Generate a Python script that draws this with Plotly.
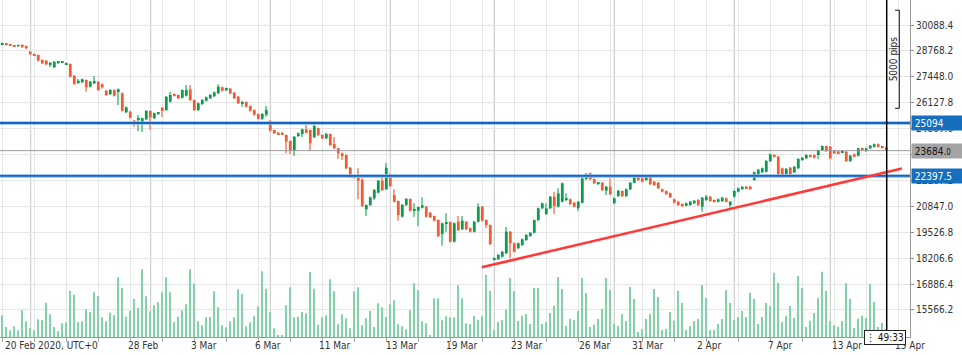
import plotly.graph_objects as go

# ---------------- data (4h candles, index 0 = first candle on 20 Feb 2020) ----------------
opens = [
    29105, 29145, 29105, 29054, 29018, 29054, 29018, 28728, 28610, 28559,
    28304, 28269, 28050, 27932, 28167, 28172, 28085, 28100, 27504, 27168,
    27168, 27285, 26944, 27117, 27198, 27066, 26740, 26571, 26775, 26724,
    26607, 25639, 25669, 25211, 25246, 25042, 25282, 25705, 25333, 25552,
    25873, 25756, 26179, 26571, 26520, 26383, 26485, 26811, 26266, 25756,
    26062, 26230, 26352, 26454, 26607, 26913, 26760, 26842, 26638, 26434,
    26062, 26164, 25960, 25756, 25552, 25313, 25516, 25195, 24737, 24599,
    24584, 24482, 24176, 23681, 24431, 24533, 24772, 24737, 24364, 24823,
    24482, 24313, 24533, 24023, 23804, 23549, 23462, 22815, 22305, 22305,
    22188, 20695, 20914, 21255, 21541, 22152, 21714, 22479, 21423, 21118,
    20317, 20914, 21220, 20633, 20623, 20776, 20827, 20521, 20353, 20149,
    19436, 19996, 20047, 19043, 20063, 19675, 20063, 19726, 19553, 20063,
    20827, 20149, 19894, 18146, 18146, 18279, 18452, 19553, 18962, 18707,
    18875, 19130, 19334, 19502, 20149, 20746, 20455, 20746, 21337, 20827,
    21082, 21169, 21204, 21031, 20746, 21031, 22239, 22530, 22239, 21984,
    22050, 21643, 21847, 21000, 21373, 21627, 21373, 21714, 22050, 22326,
    22275, 22188, 22356, 22101, 22050, 21714, 21627, 21510, 21204, 21082,
    20965, 20878, 20914, 21000, 21169, 20827, 21169, 21337, 21169, 21082,
    21118, 21255, 20914, 21337, 21592, 21729, 21847, 21847, 22188, 22479,
    22581, 22611, 23156, 23462, 23376, 22784, 22479, 22815, 22581, 22784,
    23207, 23294, 23462, 23462, 23462, 23717, 23921, 23885, 23666, 23641,
    23600, 23631, 23156, 23498, 23427, 23804, 23666, 23804, 23885, 24008,
    23885, 23834,
]
highs = [
    29196, 29171, 29120, 29069, 29094, 29120, 29044, 28763, 28636, 28585,
    28330, 28304, 28203, 28253, 28253, 28238, 28177, 28126, 27540, 27336,
    27362, 27311, 27234, 27489, 27234, 27107, 26775, 26826, 26801, 26852,
    26648, 25934, 25705, 25246, 25501, 25374, 25756, 25730, 25629, 25654,
    25909, 26470, 26689, 26597, 26546, 26801, 27030, 27030, 26291, 26138,
    26317, 26444, 26571, 26699, 27066, 26954, 26903, 26877, 26673, 26470,
    26230, 26189, 25985, 25781, 25578, 25603, 25960, 25246, 24762, 24635,
    24650, 24507, 24201, 24431, 24609, 24813, 24991, 24762, 25042, 24864,
    24507, 24599, 24558, 24380, 23845, 23590, 23488, 22851, 22443, 22784,
    22290, 20939, 21347, 21729, 22188, 22443, 23070, 22519, 21714, 21143,
    20965, 21271, 21245, 21000, 20837, 21306, 20863, 20557, 20379, 20175,
    20022, 20491, 20073, 20022, 20353, 20353, 20098, 19767, 20098, 21000,
    20863, 20175, 19920, 18238, 18416, 18569, 19808, 19589, 19002, 19002,
    19206, 19436, 19538, 20175, 20786, 21041, 21000, 21373, 21592, 21765,
    22061, 21510, 21245, 21067, 21118, 22315, 22545, 22570, 22265, 22086,
    22086, 21882, 22275, 21296, 21678, 21653, 21755, 22086, 22366, 22366,
    22315, 22392, 22392, 22137, 22086, 21755, 21653, 21551, 21245, 21118,
    20990, 21041, 21118, 21169, 21220, 21322, 21423, 21373, 21194, 21245,
    21337, 21296, 21118, 21678, 21806, 21882, 21882, 21882, 22621, 22749,
    22825, 23207, 23539, 23513, 23411, 22825, 22800, 22851, 22902, 23309,
    23360, 23513, 23488, 23488, 23743, 23947, 23947, 23921, 23692, 23666,
    23717, 23666, 23462, 23539, 23845, 23845, 23845, 23972, 24048, 24048,
    23921, 23870,
]
lows = [
    29069, 29044, 29018, 28967, 28993, 28916, 28865, 28559, 28508, 28228,
    28100, 28050, 27948, 27897, 28100, 28152, 28050, 27412, 27030, 27081,
    27132, 26689, 26903, 27081, 26724, 26852, 26470, 26520, 26444, 26011,
    25679, 25603, 25323, 24905, 24686, 24650, 25246, 24737, 25297, 25501,
    25399, 25705, 26138, 26444, 26317, 26342, 26444, 26215, 25705, 25705,
    26011, 26189, 26317, 26419, 26571, 26699, 26724, 26571, 26317, 26062,
    25924, 25883, 25679, 25476, 25272, 25246, 25414, 24660, 24533, 24482,
    24482, 23549, 23513, 23411, 24380, 24364, 24558, 23666, 24329, 24431,
    24278, 24278, 23921, 23768, 23258, 23207, 22749, 22290, 22265, 21204,
    20812, 20353, 20863, 21169, 21500, 21627, 21678, 21831, 21041, 20114,
    20277, 20863, 20582, 20317, 19843, 20735, 20277, 20251, 20073, 19283,
    18839, 19553, 19002, 19002, 19589, 19640, 19640, 19512, 19512, 20022,
    20073, 19741, 18875, 18085, 18110, 18238, 18416, 18197, 18493, 18671,
    18824, 19079, 19283, 19461, 20098, 20710, 20404, 20710, 20455, 20786,
    21041, 21118, 20914, 20786, 20623, 20990, 22188, 22188, 21984, 21933,
    21627, 21423, 21423, 20965, 21322, 21322, 21322, 21678, 22010, 22137,
    22061, 22137, 21933, 21882, 21729, 21551, 21423, 21271, 20990, 20863,
    20812, 20837, 20863, 20965, 20863, 20572, 21118, 21067, 21041, 21041,
    21067, 21041, 20776, 21296, 21551, 21678, 21729, 21678, 22137, 22443,
    22545, 22570, 23106, 23335, 22443, 22392, 22443, 22443, 22545, 22749,
    23156, 23258, 23335, 23284, 23258, 23666, 23615, 23258, 23513, 23513,
    23564, 23106, 23106, 23335, 23386, 23666, 23615, 23768, 23845, 23845,
    23794, 23666,
]
closes = [
    29156, 29084, 29033, 29003, 29069, 28967, 28901, 28595, 28524, 28269,
    28136, 28085, 28167, 28218, 28203, 28213, 28136, 27453, 27081, 27249,
    27321, 26913, 27198, 27234, 26775, 26913, 26520, 26775, 26485, 26811,
    25720, 25894, 25363, 25078, 25333, 25333, 25705, 25384, 25588, 25618,
    25705, 26434, 26520, 26485, 26352, 26775, 26775, 26266, 25756, 26097,
    26266, 26403, 26520, 26658, 26944, 26740, 26877, 26607, 26352, 26097,
    26164, 25924, 25720, 25516, 25313, 25552, 25756, 24701, 24568, 24517,
    24517, 24140, 23681, 24395, 24568, 24772, 24599, 24059, 24940, 24482,
    24313, 24533, 23972, 23804, 23549, 23411, 22784, 22326, 22392, 22152,
    20863, 20914, 21306, 21678, 22152, 21678, 22815, 21882, 21082, 20404,
    20914, 21220, 20623, 20684, 20812, 20899, 20317, 20287, 20114, 19334,
    19981, 20022, 19043, 19981, 19640, 20114, 19675, 19553, 20063, 20827,
    20114, 19894, 18926, 18197, 18365, 18534, 19553, 18962, 18534, 18962,
    19166, 19385, 19502, 20149, 20746, 21000, 20746, 21337, 20863, 21510,
    22020, 21255, 20965, 20827, 21082, 22275, 22494, 22224, 22020, 22050,
    21678, 21847, 21459, 21255, 21643, 21373, 21714, 22050, 22326, 22188,
    22101, 22356, 21984, 21933, 21765, 21592, 21474, 21306, 21031, 20914,
    20863, 21000, 21082, 21133, 20914, 21286, 21337, 21118, 21082, 21204,
    21286, 21082, 21082, 21627, 21765, 21847, 21765, 21729, 22581, 22713,
    22784, 23156, 23498, 23376, 22479, 22443, 22749, 22479, 22866, 23258,
    23325, 23462, 23376, 23325, 23717, 23921, 23666, 23294, 23549, 23549,
    23666, 23156, 23427, 23376, 23804, 23717, 23804, 23936, 24008, 23885,
    23834, 23684,
]
volumes = [
    21.7, 10, 6.7, 10.7, 6.7, 26.7, 15.7, 9, 6.7, 17.7,
    16.7, 34.3, 22.7, 10, 5.7, 13.7, 14.7, 46, 42.3, 15,
    15.7, 27.7, 24.7, 44.7, 41, 19.7, 15.7, 24.3, 21.7, 59.7,
    49, 20.3, 26.3, 38, 29, 67.7, 40.7, 25.7, 31.7, 34.7,
    44.7, 59.7, 44.7, 15, 20.3, 26.7, 32.7, 67.7, 53.3, 15.7,
    11.7, 19.7, 20, 45.7, 29.7, 11.7, 9.7, 15.7, 19.7, 47.7,
    43, 10.7, 14.7, 20.7, 30.7, 65.7, 48.3, 25, 8.7, 1.7,
    1.7, 31.7, 49.7, 19.7, 20.3, 25, 23.7, 65, 48.3, 12.3,
    19.7, 21.7, 57.7, 45.7, 12.7, 22.7, 18.7, 8.7, 45.7, 49.7,
    11.7, 18.7, 26, 10, 33.7, 29.7, 20, 32.7, 36.7, 12.7,
    10.7, 7.7, 26.7, 53.7, 46.7, 15.7, 13.7, 1.7, 38.7, 38.7,
    16.7, 20.7, 19.7, 19.7, 51.7, 38.7, 13.7, 13, 21, 17.3,
    21, 62, 46.3, 7, 15, 17, 27.3, 59, 46, 16,
    21, 23, 13, 49, 49, 13, 15, 24, 31, 60,
    48, 11, 18.3, 17, 26, 59, 44, 10, 12.3, 18,
    28.3, 59, 47, 13, 11, 23, 16, 50, 38, 5,
    8, 18, 23, 48, 40, 7, 8, 25, 16.3, 46.3,
    34, 7, 11, 16, 18.3, 52, 39, 7, 7, 13,
    18, 47, 34, 17, 20, 26, 20, 44.3, 38, 13,
    20, 34, 31, 64.3, 54.3, 15, 21.3, 31, 19, 61,
    49, 10, 16.3, 24, 39, 65.3, 46.3, 16, 11.7, 10,
    16, 54, 38, 9, 18.3, 21.3, 19, 53, 35, 10,
    14, 8,
]

price_ticks = [30088.4, 28768.2, 27448.0, 26127.8, 24807.6, 23487.4,
               22167.2, 20847.0, 19526.8, 18206.6, 16886.4, 15566.2]
first_date_label = "20 Feb 2020, UTC+0"
date_labels = ["28 Feb", "3 Mar", "6 Mar", "11 Mar", "13 Mar", "19 Mar", "23 Mar",
               "26 Mar", "31 Mar", "2 Apr", "7 Apr", "13 Apr", "15 Apr"]
date_pos = [35.2, 50.3, 66.5, 83.2, 99.9, 115.0, 131.2, 148.1, 161.5, 176.6,
            194.5, 211.2, 226.8]
week_starts = [7.1, 37.1, 67, 97, 123, 153, 183, 207]
levels = [25094, 22397.5]
level_text = ["25094", "22397.5"]
last_price = 23684
trend_x = [119.85, 224.9]
trend_y = [17738, 22774]
pips_range = [25842, 30842]
timer_text = "49:33"

n = len(opens)
assert all(len(a) == n for a in (highs, lows, closes, volumes)), [len(a) for a in (opens, highs, lows, closes, volumes)]
xs = list(range(n))

GREEN, RED = "#0e9a50", "#f25c33"
GREEN_W, RED_W = "#79cd9b", "#f5a089"
VOL = "#84d3a8"
FONT = "DejaVu Sans Condensed, Liberation Sans, sans-serif"
FS = 10

up = [c >= o for o, c in zip(opens, closes)]
body_min = 45
body_base, body_h = [], []
for o, c in zip(opens, closes):
    lo, hi = min(o, c), max(o, c)
    h = hi - lo
    if h < body_min:
        lo -= (body_min - h) / 2
        h = body_min
    body_base.append(lo)
    body_h.append(h)

fig = go.Figure()
fig.add_trace(go.Bar(x=xs, y=volumes, width=0.2, marker=dict(color=VOL, line_width=0),
                     yaxis="y2", hoverinfo="skip"))
fig.add_trace(go.Bar(x=xs, y=[h - l for h, l in zip(highs, lows)], base=lows, width=0.22,
                     marker=dict(color=[GREEN_W if u else RED_W for u in up], line_width=0),
                     hoverinfo="skip"))
fig.add_trace(go.Bar(x=xs, y=body_h, base=body_base, width=0.7,
                     marker=dict(color=[GREEN if u else RED for u in up], line_width=0),
                     hoverinfo="skip"))

y_lo, y_hi = 14185.7, 31362.6
shapes = []
for w in week_starts:
    shapes.append(dict(type="line", xref="x", yref="paper", x0=w, x1=w, y0=0, y1=1,
                       line=dict(color="#c4c4c4", width=1), layer="below"))
shapes.append(dict(type="line", xref="paper", yref="y", x0=0, x1=1, y0=last_price, y1=last_price,
                   line=dict(color="#9a9a9a", width=1)))
for lv in levels:
    shapes.append(dict(type="line", xref="paper", yref="y", x0=0, x1=1, y0=lv, y1=lv,
                       line=dict(color="#8cbbe9", width=3.5)))
    shapes.append(dict(type="line", xref="paper", yref="y", x0=0, x1=1, y0=lv, y1=lv,
                       line=dict(color="#1565c0", width=1.8)))
shapes.append(dict(type="line", xref="x", yref="y", x0=trend_x[0], x1=trend_x[1],
                   y0=trend_y[0], y1=trend_y[1], line=dict(color="#ff3838", width=2.5)))
shapes.append(dict(type="line", xref="x", yref="paper", x0=221.1, x1=221.1, y0=0, y1=1,
                   line=dict(color="#000000", width=1.5)))
# 5000 pips bracket
shapes.append(dict(type="line", xref="x", yref="y", x0=224.25, x1=224.25,
                   y0=pips_range[0], y1=pips_range[1], line=dict(color="#111", width=1)))
for pv in pips_range:
    shapes.append(dict(type="line", xref="x", yref="y", x0=223.2, x1=224.25, y0=pv, y1=pv,
                       line=dict(color="#111", width=1)))

annotations = []
annotations.append(dict(text=first_date_label, x=0.2, xref="x", y=0, yref="paper",
                        xanchor="left", yanchor="top", yshift=-1, showarrow=False,
                        font=dict(family=FONT, size=FS, color="#333")))
for t, p in zip(date_labels, date_pos):
    annotations.append(dict(text=t, x=p, xref="x", y=0, yref="paper", xanchor="center",
                            yanchor="top", yshift=-1, showarrow=False,
                            font=dict(family=FONT, size=FS, color="#333")))
for lv, t in zip(levels, level_text):
    annotations.append(dict(text="\u00a0" + t, x=1, xref="paper", y=lv, yref="y",
                            xanchor="left", yanchor="middle", xshift=1, showarrow=False,
                            width=51, height=14, align="left", borderpad=0,
                            bgcolor="#156ebe", font=dict(family=FONT, size=FS, color="#ffffff")))
annotations.append(dict(text="\u00a023684.<span style='font-size:8px'>0</span>", x=1, xref="paper",
                        y=last_price, yref="y", xanchor="left", yanchor="middle", xshift=1,
                        showarrow=False, width=51, height=14, align="left", borderpad=0,
                        bgcolor="#a4a4a4", font=dict(family=FONT, size=FS, color="#111")))
annotations.append(dict(text="5000 pips", x=222.7, xref="x", y=sum(pips_range) / 2, yref="y",
                        textangle=-90, showarrow=False, xanchor="center", yanchor="middle",
                        font=dict(family=FONT, size=FS, color="#222")))
annotations.append(dict(text="\u22ee " + timer_text, x=220.6, xref="x", y=0, yref="paper",
                        xanchor="center", yanchor="middle", showarrow=False,
                        bgcolor="#ffffff", bordercolor="#222", borderwidth=1, borderpad=1,
                        font=dict(family=FONT, size=FS, color="#111")))

fig.update_layout(
    width=962, height=355,
    margin=dict(l=0, r=52, t=0, b=18, pad=0, autoexpand=False),
    paper_bgcolor="#ffffff", plot_bgcolor="#ffffff",
    barmode="overlay", showlegend=False,
    font=dict(family=FONT, size=FS, color="#333"),
    xaxis=dict(range=[-0.575, 226.925], tickmode="array", tickvals=list(range(0, 226, 8)),
               showticklabels=False, ticks="outside", ticklen=4, tickcolor="#aaaaaa",
               showgrid=True, gridcolor="#e6e6e6", gridwidth=1, zeroline=False,
               showline=True, linecolor="#999999", linewidth=1, fixedrange=True,
               automargin=False),
    yaxis=dict(range=[y_lo, y_hi], side="right", tickmode="array", tickvals=price_ticks,
               ticktext=[f"{v:.1f}" for v in price_ticks], ticks="outside", ticklen=3,
               tickcolor="#888888", showgrid=True, gridcolor="#e6e6e6", gridwidth=1,
               zeroline=False, showline=True, linecolor="#999999", linewidth=1,
               tickfont=dict(family=FONT, size=FS, color="#333"), automargin=False),
    yaxis2=dict(overlaying="y", range=[0, 337], visible=False, fixedrange=True,
                automargin=False),
    shapes=shapes, annotations=annotations,
)

fig.write_html("out.html", config={"displayModeBar": False},
               post_script="document.body.style.margin='0';document.body.style.overflow='hidden';")
